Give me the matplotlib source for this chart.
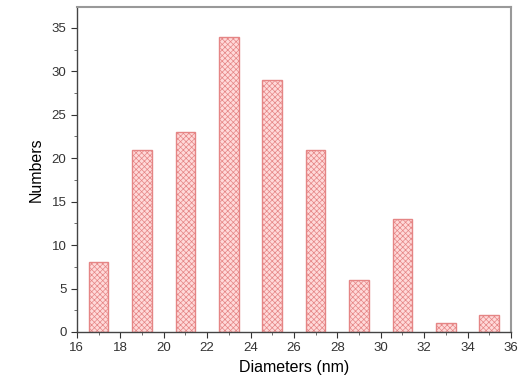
import matplotlib.pyplot as plt
from matplotlib.ticker import MultipleLocator

plt.rcParams['font.family'] = ['Liberation Sans', 'DejaVu Sans']
plt.rcParams['hatch.color'] = '#f4bcbc'
plt.rcParams['hatch.linewidth'] = 0.5

diameters = [17, 19, 21, 23, 25, 27, 29, 31, 33, 35]
numbers = [8, 21, 23, 34, 29, 21, 6, 13, 1, 2]

fig = plt.figure(figsize=(5.23, 3.91), dpi=100)
ax = fig.add_axes([0.147, 0.151, 0.83, 0.831])

ax.bar(diameters, numbers, width=0.9, color='#ffd9d9', edgecolor='#e58585',
       linewidth=1.0, hatch='xxxxxx')

ax.set_xlim(16, 36)
ax.set_ylim(0, 37.4)
ax.xaxis.set_major_locator(MultipleLocator(2))
ax.xaxis.set_minor_locator(MultipleLocator(1))
ax.yaxis.set_major_locator(MultipleLocator(5))
ax.yaxis.set_minor_locator(MultipleLocator(2.5))
ax.tick_params(which='major', direction='out', length=4, width=0.8,
               labelsize=9.5, colors='#333333')
ax.tick_params(which='minor', direction='out', length=2, width=0.6, colors='#555555')

for s in ['left', 'bottom']:
    ax.spines[s].set_color('#444444')
    ax.spines[s].set_linewidth(1.0)
for s in ['top', 'right']:
    ax.spines[s].set_color('#999999')
    ax.spines[s].set_linewidth(1.5)

ax.set_xlabel('Diameters (nm)', fontsize=11.5, labelpad=4)
ax.set_ylabel('Numbers', fontsize=11.5, labelpad=6)

fig.savefig('out.png', dpi=100)
